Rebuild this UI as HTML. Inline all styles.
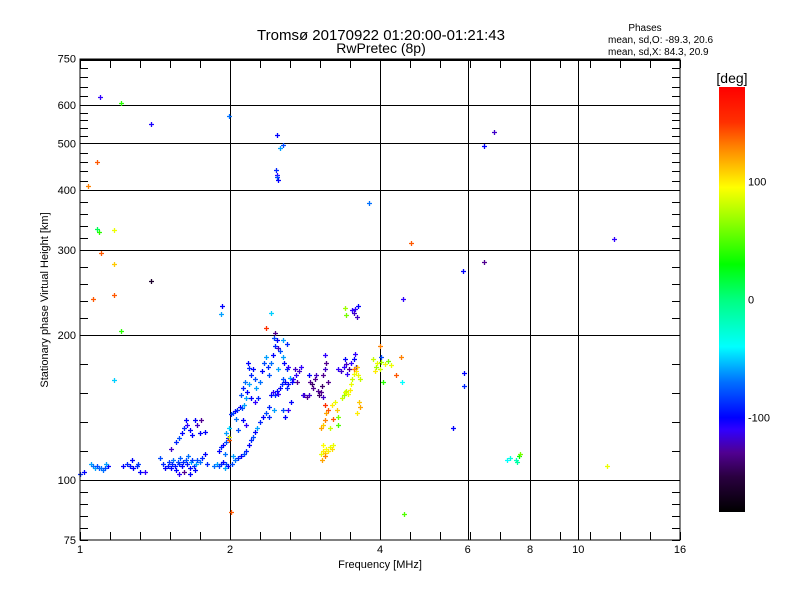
<!DOCTYPE html>
<html><head><meta charset="utf-8">
<style>
html,body{margin:0;padding:0;background:#fff;}
svg{display:block;font-family:"Liberation Sans",sans-serif;}
</style></head>
<body>
<svg id="chart" width="800" height="600" viewBox="0 0 800 600">
  <rect x="0" y="0" width="800" height="600" fill="#fff"/>
  <text x="381" y="40" text-anchor="middle" font-size="15">Tromsø 20170922 01:20:00-01:21:43</text>
  <text x="381" y="53" text-anchor="middle" font-size="14">RwPretec (8p)</text>
  <text x="645" y="31" text-anchor="middle" font-size="10">Phases</text>
  <text x="608" y="43" font-size="10">mean, sd,O: -89.3, 20.6</text>
  <text x="608" y="55" font-size="10">mean, sd,X:  84.3, 20.9</text>
  <g id="grid"></g>
  <g id="ticks"></g>
  <g id="points"></g>
  <rect x="80" y="59" width="600" height="481" fill="none" stroke="#000" stroke-width="1"/>
  <line x1="80" y1="60" x2="680" y2="60" stroke="#000" stroke-width="2"/>
  <text x="380" y="568" text-anchor="middle" font-size="11">Frequency [MHz]</text>
  <text transform="translate(48,300) rotate(-90)" text-anchor="middle" font-size="11">Stationary phase Virtual Height [km]</text>
  <defs>
    <linearGradient id="cbar" x1="0" y1="1" x2="0" y2="0">
      <stop offset="0" stop-color="#000000"/>
      <stop offset="0.083" stop-color="#2a0040"/>
      <stop offset="0.139" stop-color="#500090"/>
      <stop offset="0.194" stop-color="#3000ff"/>
      <stop offset="0.222" stop-color="#0000ff"/>
      <stop offset="0.306" stop-color="#0070ff"/>
      <stop offset="0.389" stop-color="#00ffff"/>
      <stop offset="0.5" stop-color="#00ff80"/>
      <stop offset="0.583" stop-color="#00ff00"/>
      <stop offset="0.694" stop-color="#a0ff00"/>
      <stop offset="0.764" stop-color="#ffff00"/>
      <stop offset="0.861" stop-color="#ff8000"/>
      <stop offset="0.917" stop-color="#ff3000"/>
      <stop offset="1" stop-color="#ff0000"/>
    </linearGradient>
  </defs>
  <rect x="719" y="87" width="26" height="425" fill="url(#cbar)"/>
  <text x="732" y="83" text-anchor="middle" font-size="14">[deg]</text>
  <g id="cbticks"></g>
</svg>
<script>
const xTickValues = [1, 2, 4, 6, 8, 10, 16];
const xTickLabels = ["1", "2", "4", "6", "8", "10", "16"];
const xGridValues = [2, 4, 6, 8, 10];
const yTickValues = [75, 100, 200, 300, 400, 500, 600, 750];
const yTickLabels = ["75", "100", "200", "300", "400", "500", "600", "750"];
const yGridValues = [100, 200, 300, 400, 500, 600];
const cbValues = [100, 0, -100];
const cbLabels = ["100", "0", "-100"];
const pointFreq = [];
const pointHeight = [];
const pointPhase = [];
const rawPoints = [
[1.097,624,-110],[1.21,606,40],[1.39,548,-105],[1.99,569,-70],[2.48,520,-100],[2.52,489,-60],[2.55,495,-80],
[2.47,440,-90],[2.49,430,-110],[2.5,420,-100],[2.48,425,-80],[1.08,457,140],[1.04,407,130],[1.08,332,10],[1.09,328,40],
[1.17,331,90],[1.1,296,140],[1.17,281,110],[1.17,242,140],[1.06,237,140],[1.39,259,-160],[1.21,204,40],[1.17,161,-50],
[1.93,230,-100],[1.92,221,-60],[2.01,86,140],[2.42,222,-50],[2.36,207,150],[2.46,202,-130],[3.8,376,-70],[4.62,310,140],
[4.45,238,-110],[4.47,85,50],[4.43,160,-40],[5.88,271,-100],[5.9,167,-100],[5.9,157,-90],[5.6,128,-100],[6.47,283,-130],
[6.47,494,-100],[6.77,527,-120],[11.8,316,-110],[11.4,107,90],[7.2,110,-40],[7.3,111,-30],[7.5,110,-20],[7.6,112,30],[7.65,113,60],[7.55,109,-10],
[1.0,103,-90],[1.02,104,-100],[1.05,108,-60],[1.06,107,-70],[1.07,106,-60],[1.08,107,-80],[1.09,106,-75],[1.1,106,-70],[1.11,105,-70],[1.12,106,-80],[1.14,107,-100],[1.13,108,-60],
[1.22,107,-100],[1.24,108,-90],[1.26,107,-95],[1.28,106,-100],[1.3,107,-90],[1.31,108,-85],[1.27,110,-100],[1.32,104,-100],[1.35,104,-110],
[1.56,120,-90],[1.58,122,-80],[1.6,125,-100],[1.62,128,-90],[1.64,130,-110],[1.66,127,-100],[1.7,133,-100],[1.72,130,-120],[1.74,125,-100],[1.68,124,-100],[1.63,133,-100],[1.75,133,-130],[1.78,126,-100],
[1.45,111,-80],[1.47,108,-90],[1.48,106,-100],[1.5,107,-95],[1.51,109,-85],[1.52,106,-100],[1.53,108,-90],[1.54,110,-70],[1.55,107,-95],[1.56,105,-100],[1.57,109,-80],[1.58,108,-90],[1.59,111,-75],[1.6,107,-100],[1.61,109,-90],[1.62,104,-130],[1.63,110,-80],[1.64,108,-95],[1.65,112,-70],[1.66,106,-100],[1.67,109,-60],[1.68,110,-85],[1.69,107,-90],[1.7,105,-100],[1.71,108,-60],[1.72,110,-80],[1.74,109,-70],[1.76,111,-90],[1.78,113,-100],[1.8,108,-90],[1.52,116,-120],[1.66,103,-100],[1.58,103,-110],
[1.86,107,-70],[1.88,108,-60],[1.9,107,-80],[1.92,108,-90],[1.94,109,-100],[1.96,108,-80],[1.98,107,-100],[1.95,106,-60],
[1.9,115,-100],[1.92,117,-90],[1.94,118,-100],[1.96,120,-80],[1.98,122,-100],[1.96,125,-60],[1.99,128,-50],[1.99,121,140],[1.99,123,90],[1.95,113,-70],
[2.02,108,-80],[2.05,110,-70],[2.08,111,-90],[2.1,112,-100],[2.13,113,-80],[2.15,115,-90],[2.18,118,-100],[2.2,121,-90],[2.22,123,-80],[2.25,126,-100],[2.27,128,-60],[2.3,132,-90],[2.33,135,-100],[2.36,138,-80],[2.4,142,-90],[2.03,112,-60],
[2.01,137,-90],[2.03,138,-80],[2.05,139,-100],[2.07,140,-90],[2.09,142,-100],[2.11,141,-80],[2.13,143,-60],[2.06,134,-70],[2.12,133,-100],[2.15,130,-110],[2.08,127,-80],
[2.1,150,-80],[2.12,155,-90],[2.14,160,-70],[2.16,152,-100],[2.18,158,-60],[2.2,165,-90],[2.22,170,-100],[2.24,162,-80],[2.26,155,-60],[2.28,148,-90],[2.3,160,-70],[2.32,168,-100],[2.34,175,-80],[2.36,180,-60],[2.38,172,-90],[2.2,148,-100],[2.25,145,-110],[2.15,148,-60],[2.17,175,-100],[2.18,171,-90],
[2.42,150,-100],[2.44,152,-110],[2.46,150,-90],[2.48,153,-100],[2.5,151,-110],[2.52,155,-100],[2.54,158,-90],[2.56,162,-80],[2.58,160,-100],[2.6,155,-90],[2.62,158,-100],[2.64,163,-60],[2.66,160,-100],[2.68,162,-110],[2.4,165,-80],[2.42,175,-70],[2.44,182,-100],[2.46,190,-90],[2.48,195,-100],[2.5,188,-120],[2.52,185,-80],[2.55,180,-60],[2.57,175,-100],[2.6,170,-90],[2.62,172,-110],[2.6,192,-90],[2.55,195,-60],[2.45,197,-80],[2.5,170,-60],[2.65,145,-100],[2.62,140,-110],[2.4,135,-90],[2.45,140,-60],[2.55,140,-80],[2.58,135,-100],
[2.7,170,-120],[2.71,165,-110],[2.73,160,-130],[2.75,168,-120],[2.78,172,-110],[2.8,150,-110],[2.82,150,-120],[2.85,149,-130],[2.88,150,-120],[2.9,160,-130],[2.92,158,-140],[2.94,155,-130],[2.96,162,-130],[2.98,165,-120],[3.0,153,-130],[3.02,150,-140],[3.05,152,-130],[3.07,149,-120],[3.08,165,-130],[3.1,170,-120],[3.12,175,-130],[3.1,182,-110],[3.14,160,-130],[3.06,157,-140],[2.88,165,-100],
[3.3,170,-110],[3.34,168,-120],[3.38,172,-110],[3.42,174,-120],[3.46,170,-130],[3.5,175,-110],[3.54,178,-100],[3.56,183,-110],[3.58,172,-120],[3.44,166,-110],[3.4,178,-100],
[3.52,225,-110],[3.55,222,-120],[3.57,227,-110],[3.6,218,-120],[3.62,230,-100],[3.4,228,70],[3.42,220,60],
[3.05,113,90],[3.08,115,100],[3.1,114,110],[3.12,116,95],[3.15,115,100],[3.18,117,90],[3.2,116,105],[3.06,110,120],[3.1,112,130],[3.22,118,90],[3.08,118,95],
[3.05,128,120],[3.07,130,110],[3.1,133,130],[3.12,138,120],[3.15,140,140],[3.2,143,100],[3.25,145,90],[3.28,140,110],[3.3,135,60],[3.18,128,80],[3.22,134,140],[3.3,130,50],[3.1,143,150],
[3.35,148,80],[3.38,150,70],[3.4,152,90],[3.42,153,80],[3.45,151,90],[3.48,154,100],[3.5,158,90],[3.52,162,80],[3.55,166,90],[3.58,168,100],[3.6,172,110],[3.62,165,90],[3.65,162,80],[3.63,145,110],[3.65,142,120],[3.6,138,100],[3.55,170,130],
[3.88,178,80],[3.92,172,70],[3.95,175,90],[4.0,170,80],[4.02,176,70],[4.1,174,90],[4.15,177,60],[4.2,173,90],[4.4,180,130],[4.3,165,140],[3.9,168,100],[4.05,160,40],[4.0,190,130],[4.02,180,-80]
];
for (const p of rawPoints) { pointFreq.push(p[0]); pointHeight.push(p[1]); pointPhase.push(p[2]); }

const X0 = 80, PX_PER_OCT_X = 150, Y100 = 480, PX_PER_OCT_Y = 145;
function xScale(f) { return X0 + Math.log2(f) * PX_PER_OCT_X; }
function yScale(h) { return Y100 - Math.log2(h / 100) * PX_PER_OCT_Y; }
function cbScale(v) { return 512 - (v + 180) / 360 * 425; }

const cStops = [[-180,[0,0,0]],[-150,[42,0,64]],[-130,[80,0,144]],[-110,[48,0,255]],[-100,[0,0,255]],[-70,[0,112,255]],[-40,[0,255,255]],[0,[0,255,128]],[30,[0,255,0]],[70,[160,255,0]],[95,[255,255,0]],[130,[255,128,0]],[150,[255,48,0]],[180,[255,0,0]]];
function colorFor(v) {
  for (let i = 1; i < cStops.length; i++) {
    if (v <= cStops[i][0]) {
      const a = cStops[i-1], b = cStops[i];
      const t = Math.max(0, (v - a[0]) / (b[0] - a[0]));
      const c = a[1].map((ch, k) => Math.round(ch + (b[1][k] - ch) * t));
      return `rgb(${c[0]},${c[1]},${c[2]})`;
    }
  }
  return "rgb(255,0,0)";
}

const NS = "http://www.w3.org/2000/svg";
function mk(tag, attrs, parent) {
  const el = document.createElementNS(NS, tag);
  for (const k in attrs) el.setAttribute(k, attrs[k]);
  parent.appendChild(el);
  return el;
}
const grid = document.getElementById("grid");
const ticks = document.getElementById("ticks");
const pts = document.getElementById("points");
const cbt = document.getElementById("cbticks");

for (const v of xGridValues) {
  const x = Math.round(xScale(v)) + 0.5;
  const l = mk("line", {x1: x, y1: 59, x2: x, y2: 540, stroke: "#000", "stroke-width": 1}, grid);
  
  
}
for (const v of yGridValues) {
  const y = Math.round(yScale(v)) + 0.5;
  const l = mk("line", {x1: 80, y1: y, x2: 680, y2: y, stroke: "#000", "stroke-width": 1}, grid);
  
  
}
for (let i = 0; i <= 20; i++) {
  const x = 80 + i * 30 + 0.5;
  const a = mk("line", {x1: x, y1: 540, x2: x, y2: 532, stroke: "#000"}, ticks);
  
  
  const b = mk("line", {x1: x, y1: 60, x2: x, y2: 68, stroke: "#000"}, ticks);
  
  
}
xTickValues.forEach((v, i) => {
  const t = mk("text", {x: xScale(v), y: 553, "text-anchor": "middle", "font-size": 11}, ticks);
  t.textContent = xTickLabels[i];
  
  
});
for (let i = 0; i < yTickValues.length - 1; i++) {
  const y1 = yScale(yTickValues[i]), y2 = yScale(yTickValues[i+1]);
  for (let k = 0; k < 5; k++) {
    const y = Math.round(y1 + (y2 - y1) * k / 5) + 0.5;
    const a = mk("line", {x1: 80, y1: y, x2: 88, y2: y, stroke: "#000"}, ticks);
    
    
    const b = mk("line", {x1: 672, y1: y, x2: 680, y2: y, stroke: "#000"}, ticks);
    
    
  }
}
yTickValues.forEach((v, i) => {
  const t = mk("text", {x: 76, y: yScale(v) + 4, "text-anchor": "end", "font-size": 11}, ticks);
  t.textContent = yTickLabels[i];
  
  
});
for (let i = 0; i < pointFreq.length; i++) {
  const x = Math.round(xScale(pointFreq[i])), y = Math.round(yScale(pointHeight[i]));
  const c = colorFor(pointPhase[i]);
  const p = mk("path", {d: `M${x-2} ${y+0.5}h5M${x+0.5} ${y-2}v5`, stroke: c, "stroke-width": 1.3, fill: "none"}, pts);
  
  
}
cbValues.forEach((v, i) => {
  const y = cbScale(v);
  const t = mk("text", {x: 748, y: y + 4, "font-size": 11}, cbt);
  t.textContent = cbLabels[i];
  
  
});
</script>
</body></html>
